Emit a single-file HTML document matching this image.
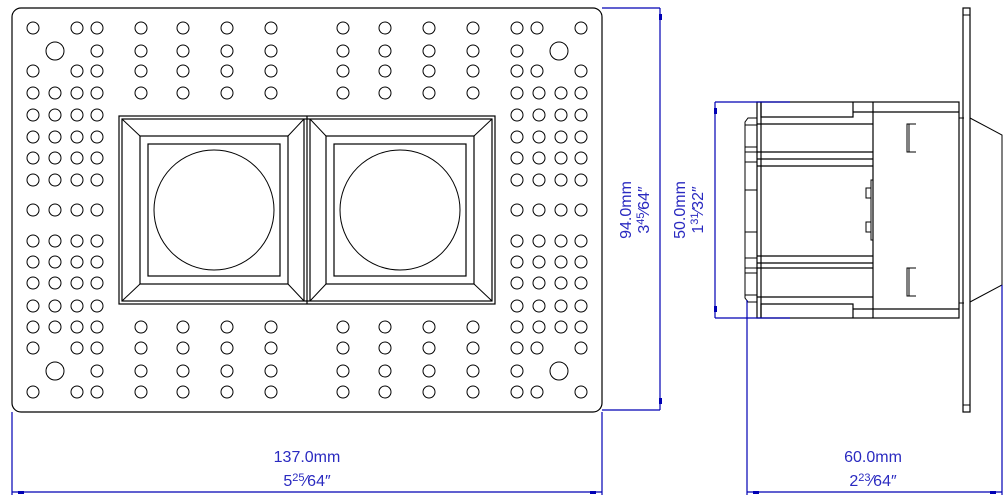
<!DOCTYPE html>
<html><head><meta charset="utf-8"><style>html,body{margin:0;padding:0;background:#fff}svg{display:block}</style></head><body>
<svg width="1008" height="497" viewBox="0 0 1008 497" xmlns="http://www.w3.org/2000/svg">
<g fill="none" stroke="#000" stroke-width="1.2">
<rect x="12" y="8" width="590" height="404" rx="9"/>
<g id="holes" stroke-width="1">
<!-- left columns -->
<circle cx="33" cy="28" r="6"/><circle cx="77" cy="28" r="6"/><circle cx="97" cy="28" r="6"/>
<circle cx="55" cy="51" r="9"/><circle cx="97" cy="51" r="6"/>
<circle cx="33" cy="71" r="6"/><circle cx="77" cy="71" r="6"/><circle cx="97" cy="71" r="6"/>
<circle cx="33" cy="348" r="6"/><circle cx="77" cy="348" r="6"/><circle cx="97" cy="348" r="6"/>
<circle cx="55" cy="371" r="9"/><circle cx="97" cy="371" r="6"/>
<circle cx="33" cy="392" r="6"/><circle cx="77" cy="392" r="6"/><circle cx="97" cy="392" r="6"/>
<!-- right columns -->
<circle cx="581" cy="28" r="6"/><circle cx="537" cy="28" r="6"/><circle cx="517" cy="28" r="6"/>
<circle cx="559" cy="51" r="9"/><circle cx="517" cy="51" r="6"/>
<circle cx="581" cy="71" r="6"/><circle cx="537" cy="71" r="6"/><circle cx="517" cy="71" r="6"/>
<circle cx="581" cy="348" r="6"/><circle cx="537" cy="348" r="6"/><circle cx="517" cy="348" r="6"/>
<circle cx="559" cy="371" r="9"/><circle cx="517" cy="371" r="6"/>
<circle cx="581" cy="392" r="6"/><circle cx="537" cy="392" r="6"/><circle cx="517" cy="392" r="6"/>
</g>
</g>
<g fill="none" stroke="#000" stroke-width="1" id="grid"></g>
<g fill="none" stroke="#000" stroke-width="1.2">
<!-- modules -->
<rect x="119" y="116" width="376" height="188"/>
<rect x="122" y="119" width="370" height="182"/>
<line x1="307" y1="116" x2="307" y2="304"/>
<line x1="304" y1="119" x2="304" y2="301"/><line x1="310" y1="119" x2="310" y2="301"/>
<rect x="140" y="136" width="148" height="148"/>
<rect x="148" y="144" width="132" height="132"/>
<circle cx="214" cy="210" r="60" stroke-width="1"/>
<rect x="326" y="136" width="148" height="148"/>
<rect x="334" y="144" width="132" height="132"/>
<circle cx="400" cy="210" r="60" stroke-width="1"/>
<g stroke-width="1">
<line x1="122" y1="119" x2="140" y2="136"/><line x1="304" y1="119" x2="288" y2="136"/>
<line x1="122" y1="301" x2="140" y2="284"/><line x1="304" y1="301" x2="288" y2="284"/>
<line x1="310" y1="119" x2="326" y2="136"/><line x1="492" y1="119" x2="474" y2="136"/>
<line x1="310" y1="301" x2="326" y2="284"/><line x1="492" y1="301" x2="474" y2="284"/>
</g>
<!-- side view -->
<rect x="757" y="102" width="202" height="216"/>
<line x1="873" y1="102" x2="873" y2="318"/>
<line x1="761" y1="102" x2="761" y2="318"/>
<polyline points="761,102 761,117 853,117 853,102"/>
<polyline points="761,318 761,304 853,304 853,318"/>
<line x1="853" y1="112" x2="959" y2="112"/><line x1="853" y1="309" x2="959" y2="309"/>
<line x1="757" y1="124" x2="873" y2="124"/><line x1="757" y1="297" x2="873" y2="297"/>
<line x1="757" y1="152" x2="873" y2="152"/><line x1="757" y1="159" x2="873" y2="159"/><line x1="757" y1="166" x2="873" y2="166"/>
<line x1="757" y1="256" x2="873" y2="256"/><line x1="757" y1="263" x2="873" y2="263"/><line x1="757" y1="268" x2="873" y2="268"/>
<path d="M757,118 L748,118 L745,122 L745,298 L748,302 L757,302" stroke-width="1"/>
<g stroke-width="1">
<line x1="745" y1="125" x2="757" y2="125"/><line x1="745" y1="147" x2="757" y2="147"/><line x1="745" y1="152" x2="757" y2="152"/><line x1="745" y1="162" x2="757" y2="162"/><line x1="745" y1="190" x2="757" y2="190"/><line x1="745" y1="232" x2="757" y2="232"/><line x1="745" y1="258" x2="757" y2="258"/><line x1="745" y1="268" x2="757" y2="268"/><line x1="745" y1="273" x2="757" y2="273"/><line x1="745" y1="295" x2="757" y2="295"/>
<rect x="871" y="180" width="2" height="60"/>
<rect x="866" y="188" width="5" height="10"/><rect x="866" y="222" width="5" height="10"/>
<path d="M916,124 L907,124 L907,152 L916,152 M909,124 L909,152"/>
<path d="M916,268 L907,268 L907,296 L916,296 M909,268 L909,296"/>
<line x1="959" y1="118" x2="964" y2="118"/><line x1="959" y1="303" x2="964" y2="303"/>
<polyline points="970,118 1002,135 1002,285 970,302"/>
</g>
<rect x="963" y="8" width="7" height="404"/>
<line x1="963" y1="15" x2="970" y2="15" stroke-width="1"/>
<line x1="963" y1="405" x2="970" y2="405" stroke-width="1"/>
</g>
<!-- dimensions -->
<g stroke="#0000b4" stroke-width="1.2" fill="none">
<line x1="602" y1="8" x2="660" y2="8"/><line x1="602" y1="410" x2="660" y2="410"/>
<line x1="660" y1="8" x2="660" y2="410"/>
<line x1="715" y1="102" x2="790" y2="102"/><line x1="715" y1="318" x2="790" y2="318"/>
<line x1="715" y1="102" x2="715" y2="318"/>
<line x1="12" y1="412" x2="12" y2="495"/><line x1="602" y1="412" x2="602" y2="495"/>
<line x1="12" y1="492" x2="602" y2="492"/>
<line x1="747" y1="300" x2="747" y2="495"/><line x1="1002" y1="285" x2="1002" y2="495"/>
<line x1="747" y1="492" x2="1002" y2="492"/>
</g>
<g fill="#0000b4">
<rect x="659" y="14" width="3" height="6"/><rect x="659" y="398" width="3" height="6"/>
<rect x="714" y="108" width="3" height="6"/><rect x="714" y="306" width="3" height="6"/>
<rect x="18" y="491" width="6" height="3"/><rect x="590" y="491" width="6" height="3"/>
<rect x="753" y="491" width="6" height="3"/><rect x="990" y="491" width="6" height="3"/>
</g>
<g fill="#2a2ac0" font-family="Liberation Sans, sans-serif" font-size="16" text-anchor="middle">
<text x="307" y="462">137.0mm</text>
<text x="307" y="486">5<tspan font-size="11" dy="-5">25</tspan><tspan dy="5">⁄64″</tspan></text>
<text x="873" y="462">60.0mm</text>
<text x="873" y="486">2<tspan font-size="11" dy="-5">23</tspan><tspan dy="5">⁄64″</tspan></text>
<text transform="translate(631,210) rotate(-90)">94.0mm</text>
<text transform="translate(649,210) rotate(-90)">3<tspan font-size="11" dy="-5">45</tspan><tspan dy="5">⁄64″</tspan></text>
<text transform="translate(685,210) rotate(-90)">50.0mm</text>
<text transform="translate(703,210) rotate(-90)">1<tspan font-size="11" dy="-5">31</tspan><tspan dy="5">⁄32″</tspan></text>
</g>
<g fill="none" stroke="#000" stroke-width="1">
<!-- middle hole columns -->
<g id="mid">
<circle cx="141" cy="28" r="6"/><circle cx="183" cy="28" r="6"/><circle cx="227" cy="28" r="6"/><circle cx="271" cy="28" r="6"/>
<circle cx="141" cy="51" r="6"/><circle cx="183" cy="51" r="6"/><circle cx="227" cy="51" r="6"/><circle cx="271" cy="51" r="6"/>
<circle cx="141" cy="71" r="6"/><circle cx="183" cy="71" r="6"/><circle cx="227" cy="71" r="6"/><circle cx="271" cy="71" r="6"/>
<circle cx="141" cy="93" r="6"/><circle cx="183" cy="93" r="6"/><circle cx="227" cy="93" r="6"/><circle cx="271" cy="93" r="6"/>
<circle cx="141" cy="327" r="6"/><circle cx="183" cy="327" r="6"/><circle cx="227" cy="327" r="6"/><circle cx="271" cy="327" r="6"/>
<circle cx="141" cy="348" r="6"/><circle cx="183" cy="348" r="6"/><circle cx="227" cy="348" r="6"/><circle cx="271" cy="348" r="6"/>
<circle cx="141" cy="371" r="6"/><circle cx="183" cy="371" r="6"/><circle cx="227" cy="371" r="6"/><circle cx="271" cy="371" r="6"/>
<circle cx="141" cy="392" r="6"/><circle cx="183" cy="392" r="6"/><circle cx="227" cy="392" r="6"/><circle cx="271" cy="392" r="6"/>
</g>
<use href="#mid" transform="translate(202,0)"/>
<!-- 4-col side grids -->
<g id="side">
<circle cx="33" cy="93" r="6"/><circle cx="55" cy="93" r="6"/><circle cx="77" cy="93" r="6"/><circle cx="97" cy="93" r="6"/>
<circle cx="33" cy="115" r="6"/><circle cx="55" cy="115" r="6"/><circle cx="77" cy="115" r="6"/><circle cx="97" cy="115" r="6"/>
<circle cx="33" cy="137" r="6"/><circle cx="55" cy="137" r="6"/><circle cx="77" cy="137" r="6"/><circle cx="97" cy="137" r="6"/>
<circle cx="33" cy="158" r="6"/><circle cx="55" cy="158" r="6"/><circle cx="77" cy="158" r="6"/><circle cx="97" cy="158" r="6"/>
<circle cx="33" cy="180" r="6"/><circle cx="55" cy="180" r="6"/><circle cx="77" cy="180" r="6"/><circle cx="97" cy="180" r="6"/>
<circle cx="33" cy="210" r="6"/><circle cx="55" cy="210" r="6"/><circle cx="77" cy="210" r="6"/><circle cx="97" cy="210" r="6"/>
<circle cx="33" cy="241" r="6"/><circle cx="55" cy="241" r="6"/><circle cx="77" cy="241" r="6"/><circle cx="97" cy="241" r="6"/>
<circle cx="33" cy="262" r="6"/><circle cx="55" cy="262" r="6"/><circle cx="77" cy="262" r="6"/><circle cx="97" cy="262" r="6"/>
<circle cx="33" cy="283" r="6"/><circle cx="55" cy="283" r="6"/><circle cx="77" cy="283" r="6"/><circle cx="97" cy="283" r="6"/>
<circle cx="33" cy="306" r="6"/><circle cx="55" cy="306" r="6"/><circle cx="77" cy="306" r="6"/><circle cx="97" cy="306" r="6"/>
<circle cx="33" cy="327" r="6"/><circle cx="55" cy="327" r="6"/><circle cx="77" cy="327" r="6"/><circle cx="97" cy="327" r="6"/>
</g>
<use href="#side" transform="translate(484,0)"/>
</g>
</svg>
</body></html>
